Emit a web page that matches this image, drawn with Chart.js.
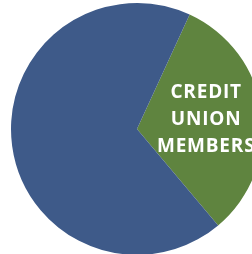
<!DOCTYPE html>
<html>
<head>
<meta charset="utf-8">
<script src="https://cdn.jsdelivr.net/npm/chart.js@4/dist/chart.umd.min.js"></script>
<style>
  html, body { margin: 0; padding: 0; background: #fff; overflow: hidden; width: 252px; height: 254px; }
  #wrap { position: absolute; left: 0; top: 0; width: 280px; height: 258px; }
</style>
</head>
<body>
<div id="wrap"><canvas id="c"></canvas></div>
<script>
const categories = ["CREDIT UNION MEMBERS", "OTHER"];
const shares = [32, 68];
const sliceColors = ["#5f843f", "#3e5a89"];
const sliceLabels = [["CREDIT", "UNION", "MEMBERS"], []];

const labelPlugin = {
  id: 'sliceLabel',
  afterDatasetsDraw(chart) {
    const ctx = chart.ctx;
    const meta = chart.getDatasetMeta(0);
    meta.data.forEach((arc, i) => {
      const lines = sliceLabels[i];
      if (!lines.length) return;
      const p = arc.getProps(['x', 'y', 'startAngle', 'endAngle', 'outerRadius'], true);
      const mid = (p.startAngle + p.endAngle) / 2;
      const r = p.outerRadius * 0.55;
      const cx = p.x + Math.cos(mid) * r;
      const cy = p.y + Math.sin(mid) * r;
      ctx.save();
      ctx.fillStyle = '#ffffff';
      ctx.font = 'bold 19px "Open Sans"';
      ctx.letterSpacing = '0.8px';
      ctx.textAlign = 'center';
      ctx.textBaseline = 'middle';
      const lh = 27;
      lines.forEach((t, k) => {
        ctx.fillText(t, cx + 0.5, cy + (k - (lines.length - 1) / 2) * lh);
      });
      ctx.restore();
    });
  }
};

new Chart(document.getElementById('c'), {
  type: 'pie',
  data: {
    labels: categories,
    datasets: [{
      data: shares,
      backgroundColor: sliceColors,
      borderWidth: 0,
      hoverOffset: 0,
      offset: 0
    }]
  },
  options: {
    responsive: true,
    maintainAspectRatio: false,
    animation: false,
    rotation: 24.7,
    layout: { padding: { left: 11, right: 17, top: 3, bottom: 3 } },
    plugins: { legend: { display: false }, tooltip: { enabled: false } }
  },
  plugins: [labelPlugin]
});
</script>
</body>
</html>
